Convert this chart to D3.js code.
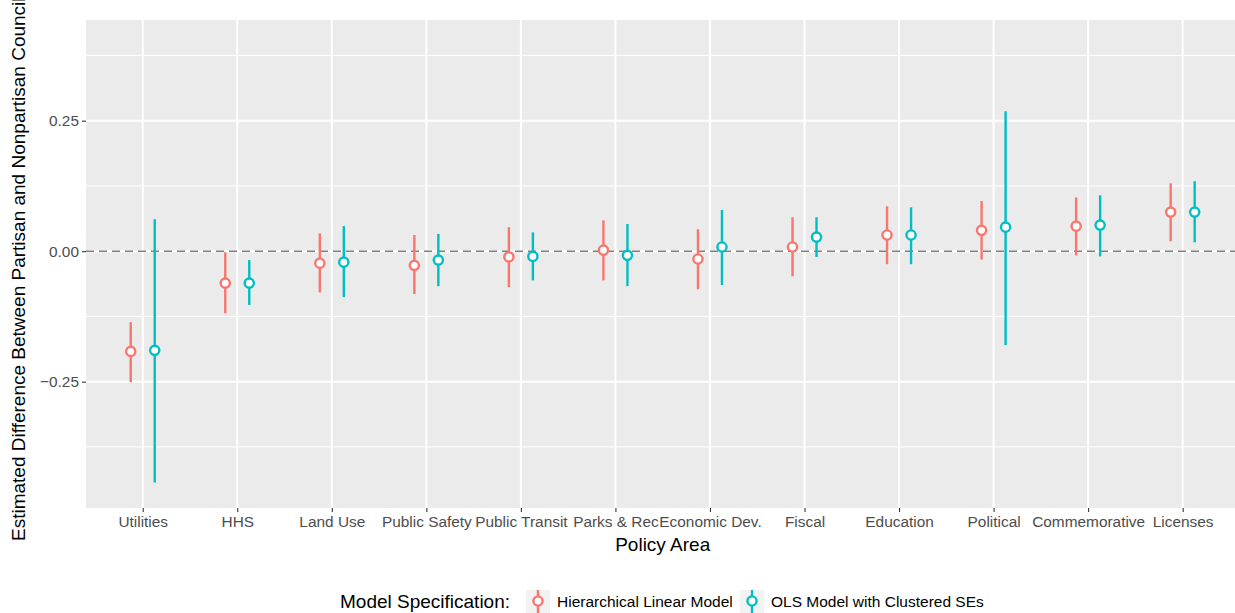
<!DOCTYPE html>
<html>
<head>
<meta charset="utf-8">
<script src="https://cdn.jsdelivr.net/npm/d3@7"></script>
<style>
  html, body { margin: 0; padding: 0; background: #fff; }
  svg { display: block; font-family: "Liberation Sans", Arial, sans-serif; }
</style>
</head>
<body>
<svg id="chart" width="1235" height="613"></svg>
<script>
// Policy areas, ordered by the hierarchical model estimate
const categories = ["Utilities", "HHS", "Land Use", "Public Safety", "Public Transit",
  "Parks & Rec", "Economic Dev.", "Fiscal", "Education", "Political", "Commemorative", "Licenses"];

const models = ["Hierarchical Linear Model", "OLS Model with Clustered SEs"];

// Hierarchical linear model: estimate and interval
const hlmEst  = [-0.192, -0.061, -0.023, -0.027, -0.011,  0.002, -0.015,  0.008,  0.031,  0.040,  0.048,  0.075];
const hlmLow  = [-0.251, -0.119, -0.079, -0.082, -0.069, -0.056, -0.073, -0.048, -0.025, -0.016, -0.008,  0.019];
const hlmHigh = [-0.136, -0.002,  0.034,  0.031,  0.046,  0.059,  0.042,  0.065,  0.086,  0.096,  0.103,  0.130];

// OLS with clustered standard errors: estimate and interval
const olsEst  = [-0.190, -0.061, -0.021, -0.017, -0.010, -0.008,  0.008,  0.027,  0.031,  0.046,  0.050,  0.075];
const olsLow  = [-0.443, -0.103, -0.088, -0.067, -0.056, -0.067, -0.065, -0.011, -0.025, -0.180, -0.010,  0.017];
const olsHigh = [ 0.061, -0.017,  0.048,  0.033,  0.036,  0.052,  0.079,  0.065,  0.084,  0.268,  0.107,  0.134];

const yTicks = [-0.25, 0, 0.25];
const yMinor = [-0.375, -0.125, 0.125, 0.375];

const colors = ["#F8766D", "#00BFC4"];

const rows = [];
categories.forEach((c, i) => {
  rows.push({cat: c, model: models[0], est: hlmEst[i], lo: hlmLow[i], hi: hlmHigh[i]});
  rows.push({cat: c, model: models[1], est: olsEst[i], lo: olsLow[i], hi: olsHigh[i]});
});

const svg = d3.select("#chart");
const panel = {left: 86, right: 1239.4, top: 20, bottom: 508};

// discrete axis with 0.6 step padding on each side
const x = d3.scalePoint().domain(categories)
  .range([panel.left, panel.right]).padding(0.6);
const dodge = d3.scalePoint().domain(models).range([-12, 12]);
const y = d3.scaleLinear().domain([-0.492, 0.4429]).range([panel.bottom, panel.top]);
const color = d3.scaleOrdinal().domain(models).range(colors);

// panel background
svg.append("rect")
  .attr("x", panel.left).attr("y", panel.top)
  .attr("width", panel.right - panel.left).attr("height", panel.bottom - panel.top)
  .attr("fill", "#EBEBEB");

const grid = svg.append("g");
grid.selectAll(".ymin").data(yMinor).join("line")
  .attr("x1", panel.left).attr("x2", panel.right)
  .attr("y1", d => y(d)).attr("y2", d => y(d))
  .attr("stroke", "#fff").attr("stroke-width", 1);
grid.selectAll(".ymaj").data(yTicks).join("line")
  .attr("x1", panel.left).attr("x2", panel.right)
  .attr("y1", d => y(d)).attr("y2", d => y(d))
  .attr("stroke", "#fff").attr("stroke-width", 2);
grid.selectAll(".xmaj").data(categories).join("line")
  .attr("x1", d => x(d)).attr("x2", d => x(d))
  .attr("y1", panel.top).attr("y2", panel.bottom)
  .attr("stroke", "#fff").attr("stroke-width", 2);

// zero reference line
svg.append("line")
  .attr("x1", panel.left).attr("x2", panel.right)
  .attr("y1", y(0)).attr("y2", y(0))
  .attr("stroke", "#7F7F7F").attr("stroke-width", 1.6)
  .attr("stroke-dasharray", "8,5");

// intervals and estimates
const marks = svg.append("g");
marks.selectAll("line.err").data(rows).join("line")
  .attr("class", "err")
  .attr("x1", d => x(d.cat) + dodge(d.model)).attr("x2", d => x(d.cat) + dodge(d.model))
  .attr("y1", d => y(d.lo)).attr("y2", d => y(d.hi))
  .attr("stroke", d => color(d.model)).attr("stroke-width", 2.4);
marks.selectAll("circle").data(rows).join("circle")
  .attr("cx", d => x(d.cat) + dodge(d.model)).attr("cy", d => y(d.est))
  .attr("r", 4.6)
  .attr("fill", "#fff").attr("stroke", d => color(d.model)).attr("stroke-width", 2.4);

// axes
const yAxis = svg.append("g")
  .attr("transform", `translate(${panel.left},0)`)
  .call(d3.axisLeft(y).tickValues(yTicks).tickSize(4).tickPadding(3)
    .tickFormat(d3.format(".2f")));
const xAxis = svg.append("g")
  .attr("transform", `translate(0,${panel.bottom})`)
  .call(d3.axisBottom(x).tickSize(4).tickPadding(4));
[yAxis, xAxis].forEach(a => {
  a.select(".domain").remove();
  a.selectAll(".tick line").attr("stroke", "#333333").attr("stroke-width", 1.1);
  a.selectAll(".tick text").attr("fill", "#4D4D4D").attr("font-size", 15.4)
    .attr("font-family", "Liberation Sans, Arial, sans-serif");
});
yAxis.selectAll(".tick text").text(d => d3.format(".2f")(d).replace("-", "\u2212"));

// axis titles
svg.append("text")
  .attr("x", (panel.left + panel.right) / 2).attr("y", 551)
  .attr("text-anchor", "middle").attr("font-size", 19).attr("fill", "#000")
  .text("Policy Area");
svg.append("text")
  .attr("transform", "translate(25,541) rotate(-90)")
  .attr("text-anchor", "start").attr("font-size", 19).attr("fill", "#000")
  .text("Estimated Difference Between Partisan and Nonpartisan Councils");

// legend
const legend = svg.append("g");
legend.append("text")
  .attr("x", 340).attr("y", 608).attr("font-size", 19).attr("fill", "#000")
  .text("Model Specification:");
const keyX = [526, 740];
const labelX = [557, 771];
models.forEach((m, i) => {
  const g = legend.append("g").attr("transform", `translate(${keyX[i]},590)`);
  g.append("rect").attr("width", 24).attr("height", 24).attr("fill", "#F2F2F2");
  g.append("line").attr("x1", 12).attr("x2", 12).attr("y1", 0).attr("y2", 24)
    .attr("stroke", color(m)).attr("stroke-width", 2.4);
  g.append("circle").attr("cx", 12).attr("cy", 11).attr("r", 4.6)
    .attr("fill", "#fff").attr("stroke", color(m)).attr("stroke-width", 2.4);
  legend.append("text")
    .attr("x", labelX[i]).attr("y", 607).attr("font-size", 15.5).attr("fill", "#000")
    .text(m);
});
</script>
</body>
</html>
